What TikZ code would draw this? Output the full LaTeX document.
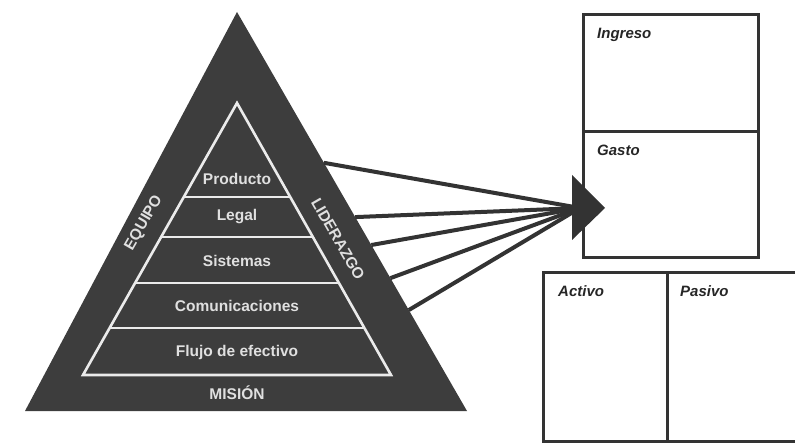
\documentclass[tikz,border=0pt]{standalone}
\usepackage{fontspec}
\setmainfont{Liberation Sans}
\usetikzlibrary{calc,positioning}
\definecolor{pyramidgray}{HTML}{3D3D3D}
\definecolor{inkgray}{HTML}{333333}
\tikzstyle{layer} = [text=white!88!black, font=\bfseries\fontsize{15.5}{18}\selectfont]
\tikzstyle{side} = [text=white!88!black, font=\bfseries\fontsize{15.5}{18}\selectfont]
\tikzstyle{band} = [draw=white!92!black, line width=2.6pt]
\tikzstyle{ray} = [draw=inkgray, line width=4pt]
\tikzstyle{account} = [draw=inkgray, line width=3pt, rectangle, anchor=north west, inner sep=0pt, outer sep=0pt]
\tikzstyle{caption} = [text=black!85, font=\bfseries\itshape\fontsize{15}{18}\selectfont, anchor=base west, inner sep=0pt]

\begin{document}
\begin{tikzpicture}[x=1pt, y=-1pt]
    \useasboundingbox (0,0) rectangle (795,443);

    % Pyramid corners
    \coordinate (apex) at (237,12);
    \coordinate (base-left) at (25,411);
    \coordinate (base-right) at (467,411);
    \coordinate (in-apex) at (237,103);
    \coordinate (in-left) at (83,375);
    \coordinate (in-right) at (391,375);
    \fill [pyramidgray] (apex) -- (base-right) -- (base-left) -- cycle;
    \draw [band, line join=miter] (in-left) -- (in-apex) -- (in-right) -- cycle;
    \foreach \t in {0.346,0.493,0.662,0.827}
        \path [band] ($(in-apex)!\t!(in-left)$) -- ($(in-apex)!\t!(in-right)$);

    % Place nodes
    \node [layer] (producto) at (237,179) {Producto};
    \node [layer] (legal) at (237,217) {Legal};
    \node [layer] (sistemas) at (237,261) {Sistemas};
    \node [layer] (comunicaciones) at (237,306) {Comunicaciones};
    \node [layer] (flujo) at (237,352) {Flujo de efectivo};
    \node [layer] (mision) at (237,393) {MISIÓN};
    \node [side, rotate=60] (equipo) at (144,223) {EQUIPO};
    \node [side, rotate=-60] (liderazgo) at (338,239) {LIDERAZGO};

    % Account boxes
    \node [account, minimum width=175pt, minimum height=117pt] (ingreso) at (583,15) {};
    \node [account, minimum width=175pt, minimum height=126pt] (gasto) at (583,132) {};
    \node [account, minimum width=124pt, minimum height=168pt] (activo) at (543,273) {};
    \node [account, minimum width=135pt, minimum height=168pt] (pasivo) at (667,273) {};
    \node [caption] (ingreso-text) at ([shift={(14,24)}]ingreso.north west) {Ingreso};
    \node [caption] (gasto-text) at ([shift={(14,24)}]gasto.north west) {Gasto};
    \node [caption] (activo-text) at ([shift={(15,24)}]activo.north west) {Activo};
    \node [caption] (pasivo-text) at ([shift={(13,24)}]pasivo.north west) {Pasivo};

    % Draw edges
    \coordinate (hub) at (580,208);
    \foreach \t in {0.378,0.514,0.584,0.667,0.747}
        \path [ray] ($(apex)!\t!(base-right)$) -- (hub);
    \fill [inkgray] (572,175) -- (605,208) -- (572,240) -- cycle;
\end{tikzpicture}
\end{document}
